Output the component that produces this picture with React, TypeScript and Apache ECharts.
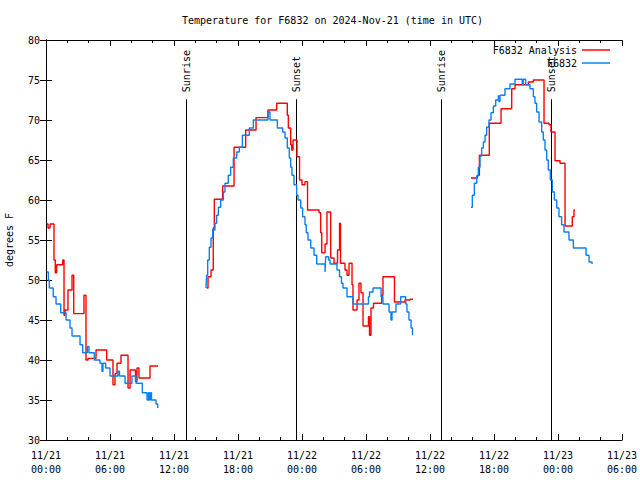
import React, { useEffect, useRef } from "react";
import * as echarts from "echarts";

// hours since 2024-11-21 00:00 UTC, temperature (deg F)
const analysisSeg1: [number, number][] = [
  [0.07, 57], [0.19, 56.5], [0.38, 57], [0.75, 52.5], [0.87, 50.9], [1.0, 51.9],
  [1.57, 52.5], [1.69, 45.6], [1.78, 46.25], [2.06, 48.75], [2.44, 50.6], [2.6, 45.8],
  [3.56, 48.1], [3.75, 40], [3.94, 40.2], [4.69, 41.25], [5.69, 40], [6.28, 36.9],
  [6.47, 38.3], [6.66, 39.6], [7.03, 40.6], [7.69, 36.5], [7.88, 38.75], [8.39, 37.3],
  [8.53, 39], [8.72, 37.75], [9.75, 39.25], [10.5, 39.25],
];
const analysisSeg2: [number, number][] = [
  [15.07, 49], [15.19, 50.4], [15.47, 51.25], [15.68, 56.5], [15.78, 60.1], [16.56, 61.75],
  [17.63, 66.6], [18.72, 68.75], [19.69, 70.3], [20.81, 71.25], [21.63, 72.1], [22.62, 70.6],
  [22.72, 69], [22.94, 66.9], [23.03, 66.25], [23.16, 67.5], [23.53, 65.4], [23.77, 62.5],
  [24.0, 61.9], [24.28, 62.3], [24.52, 58.75], [25.6, 58.4], [25.75, 55.9], [25.85, 53.4],
  [26.16, 54.5], [26.34, 58.5], [26.69, 52.75], [27.0, 52.1], [27.33, 53.75], [27.52, 57.1],
  [27.61, 52.1], [28.03, 51.25], [28.22, 50.6], [28.41, 52.1], [28.69, 49.4], [28.78, 46.25],
  [29.16, 47.5], [29.34, 49.6], [29.53, 48.4], [29.72, 44.25], [30.23, 45.4], [30.33, 43.1],
  [30.47, 46.5], [30.7, 47.1], [31.47, 48.1], [31.59, 50.4], [32.67, 47.25], [33.66, 47.5],
  [34.13, 47.6], [34.4, 47.6],
];
const analysisSeg3: [number, number][] = [
  [39.84, 62.75], [40.44, 63.1], [40.63, 65.6], [41.56, 69.6], [42.66, 71.4], [43.66, 73.9],
  [43.97, 74.4], [45.22, 74.75], [45.69, 75], [46.69, 69.6], [47.16, 69.4], [47.34, 68.5],
  [47.72, 64.9], [48.19, 64.6], [48.66, 56.75], [49.34, 57.9], [49.5, 58.75], [49.59, 58.75],
];

const obsSeg1: [number, number][] = [
  [0.07, 51], [0.22, 50], [0.31, 49], [0.68, 47.9], [0.94, 47], [1.38, 45.9], [1.88, 45],
  [2.25, 44], [2.44, 43], [3.19, 41.9], [3.44, 40.9], [3.88, 41.7], [4.03, 40.9], [4.53, 40],
  [5.06, 39.6], [5.25, 38.6], [5.34, 39.6], [5.6, 39], [6.0, 38], [6.75, 38.6], [6.89, 38],
  [7.41, 37.1], [8.06, 38], [8.44, 37.1], [9.03, 35.9], [9.47, 35], [9.61, 35.9], [9.7, 35],
  [9.8, 35.9], [9.89, 35], [10.31, 34.5], [10.47, 34],
];
const obsSeg2: [number, number][] = [
  [15.0, 49], [15.06, 50.6], [15.16, 52.5], [15.31, 54.1], [15.47, 55.25], [15.63, 56.25],
  [15.84, 57.1], [16.0, 58.1], [16.16, 59.1], [16.38, 60], [16.63, 61], [16.78, 62.1],
  [17.09, 63.1], [17.31, 64.1], [17.56, 65.25], [17.88, 66], [18.12, 66.6], [18.41, 68.1],
  [19.06, 69], [19.44, 70], [20.81, 71], [21.0, 70], [21.69, 69], [22.19, 68.5],
  [22.41, 67.75], [22.62, 66.5], [22.81, 65.25], [22.94, 64.1], [23.06, 63.1], [23.25, 61.9],
  [23.5, 60.6], [23.63, 60], [23.88, 59], [24.06, 57.9], [24.28, 56.9], [24.4, 55.9],
  [24.56, 55], [24.82, 54], [25.13, 53.1], [25.38, 52], [26.16, 51], [26.22, 52.9],
  [26.5, 52.5], [26.63, 52], [27.28, 51.25], [27.52, 50.4], [27.7, 49.6], [27.84, 49],
  [28.22, 47.9], [28.78, 47], [30.23, 47.9], [30.33, 48.5], [30.66, 49], [31.41, 47.9],
  [31.59, 47], [32.16, 46], [32.34, 45], [32.44, 46], [32.81, 47], [33.25, 47.9],
  [33.72, 47], [33.84, 46], [34.03, 45], [34.22, 44], [34.36, 43.1], [34.41, 43.1],
];
const obsSeg3: [number, number][] = [
  [39.84, 59.1], [39.97, 60.6], [40.16, 62.1], [40.38, 63], [40.53, 64.1], [40.69, 65.5],
  [40.84, 66.5], [41.0, 67.25], [41.16, 68.1], [41.31, 69.1], [41.53, 70], [41.72, 70.9],
  [41.94, 71.75], [42.16, 72.5], [42.41, 73.1], [42.47, 72.3], [42.56, 73.1], [43.03, 73.9],
  [43.5, 74.5], [43.97, 75.1], [44.65, 74.4], [44.75, 75.1], [44.97, 74.4], [45.38, 73.9],
  [45.69, 72.9], [45.84, 72.1], [46.0, 71], [46.22, 69.75], [46.47, 68.5], [46.62, 67.5],
  [46.78, 66.25], [46.94, 65], [47.09, 63.75], [47.28, 62.5], [47.47, 61], [47.66, 60],
  [47.88, 59], [48.09, 57.9], [48.34, 56.9], [48.56, 56], [49.03, 55], [49.44, 54],
  [50.63, 53.1], [50.91, 52.25], [51.19, 52],
];

const sunHours = [13.125, 23.44, 37.03, 47.34];
const sunLabels = ["Sunrise", "Sunset", "Sunrise", "Sunset"];
const sunLineTop = 72.6;

const xTickLabels = [
  "11/21\n00:00", "11/21\n06:00", "11/21\n12:00", "11/21\n18:00",
  "11/22\n00:00", "11/22\n06:00", "11/22\n12:00", "11/22\n18:00",
  "11/23\n00:00", "11/23\n06:00",
];

const FONT = '"DejaVu Sans Mono", "Liberation Mono", monospace';
const RED = "#ff0000";
const BLUE = "#0a80f0";

export default function App() {
  const ref = useRef<HTMLDivElement>(null);
  useEffect(() => {
    if (!ref.current) return;
    const chart = echarts.init(ref.current, null, { renderer: "svg" });
    const lineSeries = (name: string, data: [number, number][], color: string, z: number) => ({
      type: "line",
      name,
      data,
      step: "end",
      symbol: "none",
      lineStyle: { color, width: 1.4 },
      itemStyle: { color },
      z,
      silent: true,
    });
    const axisCommon = {
      axisLine: { show: true, lineStyle: { color: "#000", width: 1 } },
      splitLine: { show: false },
    };
    const legendCommon = {
      right: 30,
      padding: 0,
      align: "right",
      icon: "rect",
      itemWidth: 28,
      itemHeight: 1.5,
      selectedMode: false,
      textStyle: { fontFamily: FONT, fontSize: 10, color: "#000" },
    };
    chart.setOption({
      animation: false,
      backgroundColor: "#fff",
      textStyle: { fontFamily: FONT },
      title: {
        text: "Temperature for F6832 on 2024-Nov-21 (time in UTC)",
        left: 177,
        top: 10,
        textStyle: { fontFamily: FONT, fontSize: 10, fontWeight: "normal", color: "#000" },
      },
      legend: [
        { ...legendCommon, data: ["F6832 Analysis"], top: 45 },
        { ...legendCommon, data: ["F6832"], top: 58 },
      ],
      grid: { left: 46, right: 18, top: 40, bottom: 40, outerBoundsMode: "none", containLabel: false },
      xAxis: [
        {
          type: "value",
          min: 0,
          max: 54,
          interval: 6,
          position: "bottom",
          ...axisCommon,
          axisTick: { show: true, inside: true, length: 6, lineStyle: { color: "#000" } },
          minorTick: { show: true, splitNumber: 3, length: 3, lineStyle: { color: "#000" } },
          axisLabel: {
            margin: 8,
            fontFamily: FONT,
            fontSize: 10,
            lineHeight: 14,
            color: "#000",
            formatter: (v: number) => xTickLabels[Math.round(v / 6)] ?? "",
          },
        },
        {
          type: "value",
          min: 0,
          max: 54,
          interval: 6,
          position: "top",
          ...axisCommon,
          axisTick: { show: true, inside: true, length: 6, lineStyle: { color: "#000" } },
          minorTick: { show: true, splitNumber: 3, length: 3, lineStyle: { color: "#000" } },
          axisLabel: { show: false },
        },
      ],
      yAxis: [
        {
          type: "value",
          min: 30,
          max: 80,
          interval: 5,
          position: "left",
          ...axisCommon,
          axisTick: { show: true, inside: true, length: 6, lineStyle: { color: "#000" } },
          axisLabel: { margin: 6, fontFamily: FONT, fontSize: 10, color: "#000" },
          name: "degrees F",
          nameLocation: "middle",
          nameRotate: 90,
          nameGap: 32,
          nameTextStyle: { fontFamily: FONT, fontSize: 10, color: "#000" },
        },
        {
          type: "value",
          min: 30,
          max: 80,
          interval: 5,
          position: "right",
          ...axisCommon,
          axisTick: { show: true, inside: true, length: 6, lineStyle: { color: "#000" } },
          axisLabel: { show: false },
        },
      ],
      series: [
        {
          type: "custom",
          data: sunHours.map((h, i) => [h, sunLineTop, i]),
          encode: { x: 0, y: 1 },
          silent: true,
          clip: false,
          z: 1,
          renderItem: (params: any, api: any) => {
            const h = api.value(0);
            const top = api.coord([h, api.value(1)]);
            const bot = api.coord([h, 30]);
            const label = sunLabels[api.value(2)];
            const x = Math.round(top[0]) + 0.5;
            return {
              type: "group",
              children: [
                {
                  type: "line",
                  shape: { x1: x, y1: top[1], x2: x, y2: bot[1] },
                  style: { stroke: "#000", lineWidth: 1 },
                },
                {
                  type: "text",
                  x: x,
                  y: top[1] - 7,
                  rotation: Math.PI / 2,
                  style: {
                    text: label,
                    fill: "#000",
                    font: `10px ${FONT}`,
                    align: "left",
                    verticalAlign: "middle",
                  },
                },
              ],
            };
          },
        },
        lineSeries("F6832 Analysis", analysisSeg1, RED, 2),
        lineSeries("F6832 Analysis", analysisSeg2, RED, 2),
        lineSeries("F6832 Analysis", analysisSeg3, RED, 2),
        lineSeries("F6832", obsSeg1, BLUE, 3),
        lineSeries("F6832", obsSeg2, BLUE, 3),
        lineSeries("F6832", obsSeg3, BLUE, 3),
      ],
    });
    return () => chart.dispose();
  }, []);
  return (
    <div
      ref={ref}
      style={{ position: "fixed", left: 0, top: 0, width: 640, height: 480, background: "#fff" }}
    />
  );
}
